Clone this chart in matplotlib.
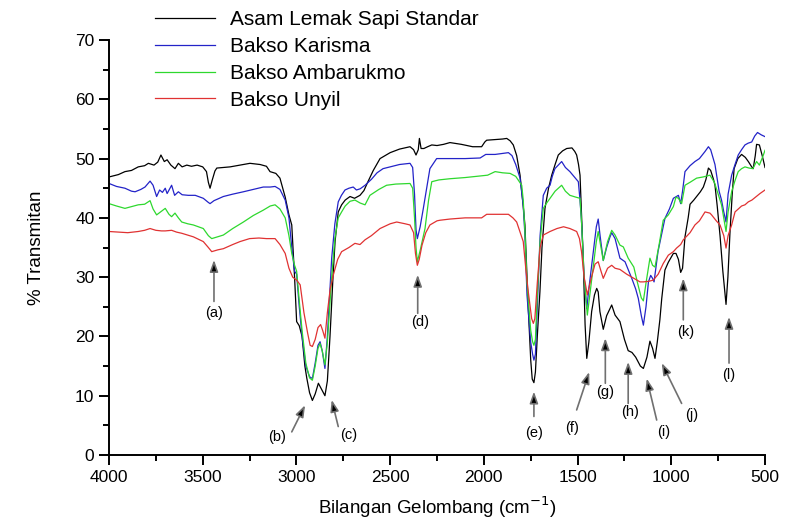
import matplotlib
matplotlib.use("Agg")
import matplotlib.pyplot as plt
import numpy as np

plt.rcParams['font.family'] = ['Liberation Sans', 'DejaVu Sans']

# ---------------- data (wavenumber cm^-1, % transmittance) ----------------
std_wn = [4000, 3950, 3915, 3880, 3844, 3810, 3790, 3760, 3740, 3723, 3705, 3690, 3670, 3648, 3630,
          3610, 3585, 3560, 3530, 3500, 3480, 3470, 3461, 3450, 3435, 3425, 3390, 3354, 3300, 3248,
          3194, 3160, 3141, 3110, 3088, 3060, 3040, 3025, 3010, 2999, 2985, 2970, 2955, 2945, 2930,
          2915, 2900, 2883, 2865, 2848, 2835, 2821, 2805, 2794, 2777, 2759, 2740, 2714, 2690, 2661,
          2640, 2620, 2590, 2554, 2500, 2450, 2394, 2375, 2362, 2350, 2344, 2335, 2320, 2300, 2278,
          2250, 2215, 2181, 2120, 2060, 2030, 2012, 1995, 1985, 1940, 1900, 1878, 1860, 1843, 1825,
          1807, 1790, 1781, 1770, 1763, 1750, 1742, 1733, 1725, 1715, 1701, 1690, 1674, 1655, 1638,
          1620, 1603, 1580, 1558, 1530, 1515, 1505, 1495, 1487, 1478, 1470, 1460, 1451, 1440, 1425,
          1410, 1398, 1390, 1381, 1363, 1345, 1318, 1300, 1274, 1250, 1230, 1210, 1190, 1165, 1149,
          1130, 1114, 1100, 1087, 1075, 1061, 1051, 1034, 1016, 989, 975, 962, 950, 940, 927,
          910, 900, 880, 865, 845, 829, 815, 802, 790, 775, 767, 755, 740, 725, 708,
          698, 687, 675, 665, 645, 625, 605, 589, 571, 563, 552, 545, 530, 515, 500]
std_t = [46.9, 47.3, 47.8, 48.0, 48.6, 48.8, 49.2, 48.9, 49.4, 50.6, 49.5, 49.8, 48.9, 48.3, 49.2,
         48.6, 48.9, 48.7, 48.9, 48.6, 47.8, 46.0, 45.0, 46.3, 47.9, 48.4, 48.5, 48.6, 48.9, 49.2,
         49.0, 48.7, 47.8, 47.5, 46.7, 43.5, 40.5, 38.8, 30.0, 22.5, 21.8, 20.0, 15.0, 13.0, 10.5,
         9.2, 10.3, 12.1, 11.0, 10.0, 12.5, 20.0, 30.0, 36.0, 41.0, 42.2, 43.0, 43.6, 43.3, 43.8,
         44.6, 46.0, 48.0, 50.0, 51.0, 51.6, 52.0, 51.5, 50.6, 51.5, 53.4, 51.7, 51.7, 52.0, 52.3,
         52.2, 52.4, 52.7, 52.4, 52.0, 52.0, 52.0, 52.8, 53.1, 53.2, 53.3, 53.4, 53.0, 52.3, 50.5,
         47.2, 42.0, 38.8, 30.0, 24.7, 16.0, 12.8, 12.2, 14.0, 20.0, 27.5, 35.0, 41.6, 45.0, 47.2,
         49.0, 50.6, 51.3, 51.7, 51.8, 51.2, 50.6, 49.0, 47.2, 40.0, 33.2, 22.0, 16.3, 19.0, 24.2,
         27.0, 28.1, 27.5, 24.2, 21.2, 23.5, 25.3, 23.6, 22.5, 19.5, 17.6, 17.3, 16.5, 15.0, 14.6,
         16.5, 19.2, 18.0, 16.3, 19.0, 22.8, 26.4, 31.2, 32.5, 34.0, 34.0, 33.0, 30.8, 31.5, 36.8,
         40.0, 42.3, 43.0, 43.6, 44.4, 45.2, 46.5, 48.4, 48.0, 46.5, 45.5, 42.0, 37.0, 31.0, 25.4,
         30.0, 37.5, 44.0, 48.3, 50.0, 50.7, 50.2, 49.5, 48.6, 48.3, 50.5, 52.4, 52.3, 50.5, 48.5]

kar_wn = [4000, 3960, 3915, 3880, 3861, 3830, 3808, 3781, 3765, 3746, 3730, 3715, 3700, 3690, 3666,
          3650, 3630, 3610, 3577, 3540, 3497, 3470, 3461, 3440, 3390, 3340, 3283, 3230, 3177, 3140,
          3114, 3088, 3060, 3040, 3025, 3010, 2999, 2985, 2970, 2950, 2930, 2915, 2900, 2885, 2874,
          2862, 2848, 2835, 2812, 2795, 2777, 2760, 2741, 2720, 2697, 2680, 2660, 2634, 2600, 2570,
          2538, 2500, 2450, 2394, 2380, 2370, 2362, 2355, 2340, 2323, 2305, 2288, 2252, 2181, 2100,
          2020, 1990, 1940, 1869, 1850, 1830, 1807, 1790, 1781, 1770, 1750, 1740, 1733, 1725, 1715,
          1700, 1683, 1665, 1647, 1635, 1621, 1600, 1585, 1565, 1541, 1520, 1496, 1487, 1478, 1465,
          1451, 1440, 1416, 1400, 1390, 1380, 1363, 1345, 1327, 1318, 1300, 1274, 1247, 1211, 1190,
          1176, 1160, 1149, 1135, 1122, 1110, 1100, 1092, 1071, 1050, 1034, 1010, 989, 962, 950,
          940, 927, 900, 874, 850, 820, 802, 790, 767, 745, 732, 720, 708, 697, 678,
          660, 643, 625, 607, 590, 571, 555, 540, 520, 500]
kar_t = [45.8, 45.3, 45.0, 44.5, 44.4, 44.8, 45.2, 46.2, 45.5, 43.6, 44.7, 44.3, 45.0, 44.1, 45.5,
         43.8, 44.4, 43.9, 43.8, 43.8, 43.3, 42.6, 42.4, 42.9, 43.6, 44.0, 44.4, 44.8, 45.2, 45.2,
         45.3, 44.8, 43.0, 40.0, 35.0, 31.0, 30.5, 25.0, 20.0, 15.0, 13.2, 12.9, 15.5, 18.5, 19.1,
         17.5, 14.6, 20.0, 33.2, 39.0, 42.7, 43.8, 44.7, 45.0, 45.2, 44.7, 44.9, 45.5, 46.5, 47.6,
         48.3, 48.6, 49.0, 49.2, 48.5, 44.0, 38.0, 36.5, 38.5, 41.6, 45.0, 48.3, 50.0, 50.0, 50.0,
         50.1, 50.7, 50.7, 51.0, 50.5, 49.0, 46.7, 42.0, 37.1, 27.0, 19.0, 17.0, 16.0, 17.0, 25.0,
         37.0, 43.8, 45.0, 45.5, 47.0, 48.3, 49.0, 49.5, 48.5, 47.8, 47.0, 46.1, 43.0, 38.8, 30.0,
         24.7, 28.0, 34.3, 38.5, 39.8, 37.0, 32.8, 35.0, 36.8, 37.5, 36.5, 33.2, 32.6, 29.8, 28.0,
         26.4, 23.5, 21.9, 25.0, 29.2, 30.3, 29.8, 29.2, 34.3, 37.5, 39.9, 41.5, 43.3, 43.8, 42.4,
         44.5, 47.8, 48.8, 49.5, 50.0, 51.2, 52.0, 51.5, 49.0, 44.5, 43.0, 41.0, 39.3, 44.0, 47.2,
         49.0, 50.6, 51.5, 52.3, 52.6, 52.8, 53.8, 54.4, 54.0, 53.7]

amb_wn = [4000, 3960, 3915, 3880, 3844, 3810, 3781, 3765, 3746, 3725, 3700, 3680, 3666, 3648, 3630,
          3612, 3580, 3550, 3497, 3470, 3452, 3420, 3390, 3340, 3283, 3230, 3177, 3140, 3114, 3088,
          3060, 3040, 3025, 3010, 2999, 2985, 2970, 2950, 2930, 2915, 2900, 2885, 2874, 2862, 2848,
          2835, 2812, 2795, 2777, 2759, 2740, 2714, 2688, 2660, 2634, 2608, 2560, 2519, 2470, 2394,
          2380, 2370, 2362, 2355, 2340, 2314, 2295, 2278, 2240, 2181, 2100, 2040, 1980, 1940, 1900,
          1860, 1830, 1798, 1790, 1781, 1770, 1750, 1740, 1733, 1725, 1715, 1700, 1683, 1665, 1647,
          1620, 1585, 1565, 1541, 1510, 1487, 1478, 1465, 1448, 1435, 1416, 1400, 1390, 1375, 1363,
          1340, 1318, 1300, 1274, 1256, 1230, 1200, 1180, 1160, 1149, 1135, 1114, 1100, 1087, 1065,
          1043, 1016, 989, 975, 962, 945, 936, 927, 900, 865, 830, 794, 770, 745, 732,
          720, 708, 697, 678, 660, 643, 625, 607, 585, 565, 545, 530, 510, 500]
amb_t = [42.4, 42.0, 41.6, 41.9, 42.2, 42.3, 42.9, 41.5, 40.5, 41.0, 41.6, 40.6, 40.2, 40.8, 40.0,
         39.3, 39.0, 38.8, 38.2, 37.0, 36.5, 36.8, 37.1, 38.2, 39.3, 40.4, 41.3, 42.0, 42.2, 41.5,
         40.0, 37.0, 34.0, 32.0, 31.0, 26.0, 21.0, 15.5, 13.0, 12.6, 15.0, 18.0, 18.8, 17.5, 15.2,
         19.0, 30.0, 36.5, 40.0, 41.0, 42.0, 42.8, 43.0, 42.5, 42.2, 43.8, 44.8, 45.5, 45.7, 45.8,
         45.0, 40.0, 35.0, 32.6, 34.5, 38.2, 43.0, 46.1, 46.4, 46.6, 46.8, 47.0, 47.2, 47.8, 47.6,
         47.5, 47.0, 45.5, 43.0, 37.7, 29.0, 21.0, 19.1, 18.5, 19.5, 27.0, 36.0, 41.6, 42.5, 43.3,
         44.5, 45.5, 44.5, 43.8, 43.5, 43.3, 38.8, 30.0, 23.6, 27.0, 32.0, 36.0, 37.7, 35.0, 32.8,
         36.0, 37.9, 37.1, 35.4, 35.1, 33.2, 31.7, 29.0, 26.5, 26.0, 29.0, 33.2, 32.0, 31.7, 35.5,
         39.6, 40.5, 41.9, 43.5, 43.3, 42.4, 44.0, 45.5, 46.0, 46.7, 46.9, 47.2, 46.0, 43.5, 42.2,
         40.0, 37.7, 41.0, 44.4, 46.3, 47.8, 48.3, 48.6, 48.4, 48.3, 49.5, 48.9, 50.5, 51.4]

uny_wn = [4000, 3950, 3900, 3844, 3810, 3781, 3750, 3720, 3700, 3666, 3640, 3612, 3580, 3550, 3497,
          3470, 3452, 3420, 3390, 3340, 3301, 3250, 3200, 3160, 3114, 3088, 3060, 3040, 3020, 2999,
          2980, 2960, 2940, 2927, 2915, 2900, 2885, 2871, 2860, 2848, 2835, 2820, 2803, 2780, 2759,
          2720, 2688, 2661, 2634, 2600, 2554, 2500, 2465, 2420, 2394, 2375, 2365, 2355, 2345, 2330,
          2310, 2288, 2250, 2234, 2181, 2100, 2012, 1985, 1940, 1869, 1845, 1825, 1790, 1775, 1763,
          1745, 1736, 1728, 1715, 1700, 1683, 1647, 1610, 1575, 1541, 1505, 1490, 1479, 1465, 1448,
          1430, 1407, 1390, 1375, 1363, 1340, 1318, 1300, 1274, 1238, 1200, 1167, 1149, 1120, 1096,
          1070, 1043, 1016, 989, 972, 950, 936, 900, 874, 850, 820, 794, 785, 760, 740,
          720, 708, 697, 678, 660, 625, 607, 589, 570, 527, 500]
uny_t = [37.7, 37.6, 37.5, 37.7, 37.9, 38.2, 37.9, 37.8, 37.8, 37.9, 37.6, 37.4, 37.1, 36.8, 36.0,
         35.0, 34.3, 34.6, 34.8, 35.5, 36.0, 36.5, 36.6, 36.5, 36.5, 35.5, 34.0, 31.5, 30.0, 29.5,
         28.7, 24.0, 20.5, 18.5, 18.3, 19.5, 21.5, 22.0, 21.0, 19.7, 24.0, 28.0, 30.4, 33.0, 34.3,
         35.0, 35.7, 35.5, 36.3, 37.0, 38.2, 39.0, 39.3, 39.0, 38.8, 37.5, 34.0, 32.0, 33.0, 35.4,
         37.5, 38.8, 39.5, 39.6, 39.8, 40.0, 40.0, 40.6, 40.6, 40.6, 40.0, 39.3, 36.0, 31.0, 27.5,
         23.0, 22.2, 23.0, 29.0, 35.0, 37.1, 37.7, 38.2, 38.5, 38.2, 37.7, 36.5, 34.3, 30.0, 27.0,
         29.5, 32.2, 32.6, 31.0, 29.8, 31.5, 32.0, 31.5, 31.3, 30.5, 29.8, 29.2, 29.2, 29.3, 29.5,
         30.5, 32.3, 33.7, 34.3, 34.9, 35.5, 36.3, 37.5, 38.8, 39.5, 41.0, 40.8, 40.5, 39.5, 38.8,
         37.0, 34.9, 37.0, 38.8, 41.0, 42.0, 42.2, 42.7, 43.0, 44.1, 44.7]

series_names = ["Asam Lemak Sapi Standar", "Bakso Karisma", "Bakso Ambarukmo", "Bakso Unyil"]
series_colors = ["#000000", "#2323c8", "#2ed82e", "#e03232"]

# peak annotations: label, arrow tip (wn, %T), arrow tail (wn, %T), label position (wn, %T)
peak_labels = ["(a)", "(b)", "(c)", "(d)", "(e)", "(f)", "(g)", "(h)", "(i)", "(j)", "(k)", "(l)"]
tip_wn = [3440, 2954, 2812, 2353, 1733, 1438, 1352, 1230, 1131, 1051, 936, 692]
tip_t = [32.9, 8.4, 9.3, 30.4, 10.7, 14.0, 19.7, 15.7, 12.9, 15.5, 29.8, 23.3]
tail_wn = [3440, 3025, 2777, 2353, 1733, 1505, 1352, 1230, 1078, 945, 936, 692]
tail_t = [25.9, 3.9, 4.8, 23.9, 6.5, 7.6, 12.1, 8.7, 5.9, 8.7, 22.8, 15.5]
lab_wn = [3440, 3105, 2723, 2340, 1733, 1532, 1352, 1220, 1043, 891, 925, 692]
lab_t = [23.9, 3.1, 3.4, 22.5, 3.7, 4.5, 10.7, 7.3, 3.9, 6.7, 20.8, 13.5]

# ---------------- plot ----------------
fig = plt.figure(figsize=(7.86, 5.21), dpi=100)
ax = fig.add_axes([0.1387, 0.1267, 0.8346, 0.7965])

all_wn = [std_wn, kar_wn, amb_wn, uny_wn]
all_t = [std_t, kar_t, amb_t, uny_t]
handles = []
for wn, t, name, c in zip(all_wn, all_t, series_names, series_colors):
    h, = ax.plot(wn, t, color=c, lw=0.9, label=name)
    handles.append(h)

for lab, tx, ty, sx, sy, lx, ly in zip(peak_labels, tip_wn, tip_t, tail_wn, tail_t, lab_wn, lab_t):
    ax.annotate('', xy=(tx, ty), xytext=(sx, sy),
                arrowprops=dict(arrowstyle='-|>,head_length=0.7,head_width=0.25',
                                ec='#707070', fc='black', lw=1.2, shrinkA=0, shrinkB=0))
    ax.text(lx, ly, lab, ha='center', va='center', fontsize=10.5)

ax.set_xlim(4000, 500)
ax.set_ylim(0, 70)
ax.set_xticks(np.arange(4000, 499, -500))
ax.set_xticks(np.arange(3750, 500, -500), minor=True)
ax.set_yticks(np.arange(0, 71, 10))
ax.set_yticks(np.arange(5, 70, 10), minor=True)

for s in ['top', 'right']:
    ax.spines[s].set_visible(False)
for s in ['left', 'bottom']:
    ax.spines[s].set_linewidth(1.4)

ax.tick_params(axis='both', which='major', direction='out', length=7, width=1.4, labelsize=12.5)
ax.tick_params(axis='both', which='minor', direction='out', length=4, width=1.4)

ax.set_xlabel("Bilangan Gelombang (cm$^{-1}$)", fontsize=13.5, labelpad=7)
ax.set_ylabel("% Transmitan", fontsize=13.5, labelpad=22)

fig.legend(handles=handles, labels=series_names, loc='upper left',
           bbox_to_anchor=(155 / 786, 1 - 10 / 521), frameon=False,
           fontsize=15, handlelength=2.9, handletextpad=0.7, labelspacing=0.38,
           borderpad=0, borderaxespad=0)

fig.savefig("out.png", dpi=100)
